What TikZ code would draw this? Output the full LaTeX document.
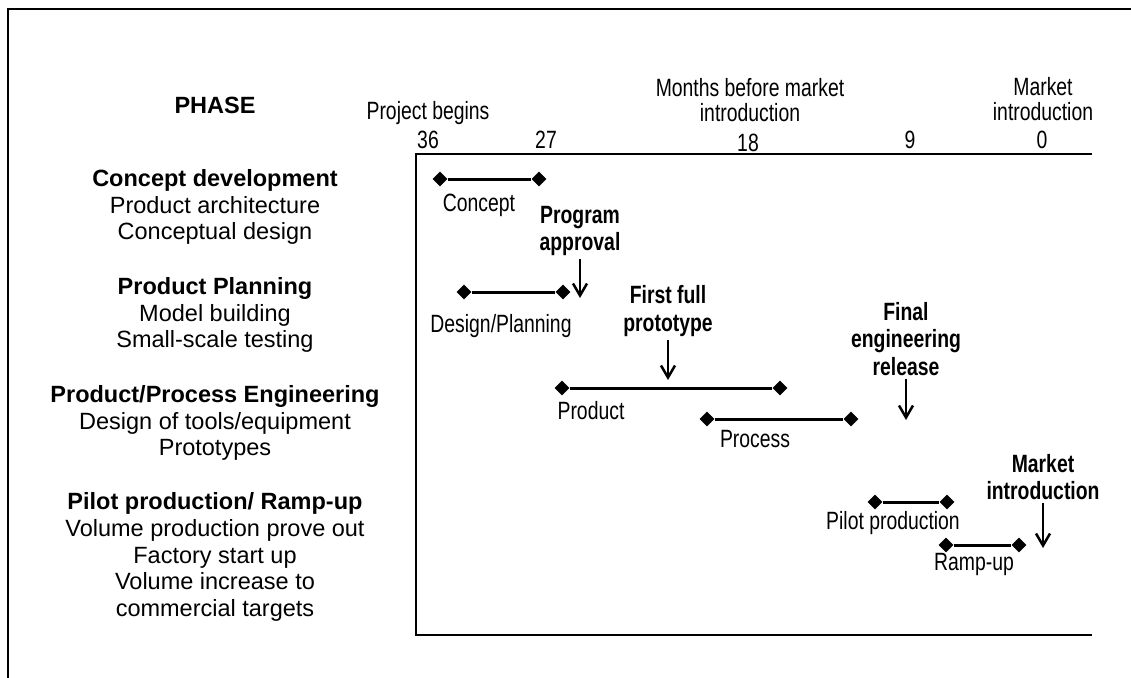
\documentclass[tikz,border=0pt]{standalone}
\usepackage{fontspec}
\setmainfont{Liberation Sans}
\newfontfamily\narrow[FakeStretch=0.775]{Liberation Sans}
\usetikzlibrary{arrows.meta,shapes.geometric}
\begin{document}
\begin{tikzpicture}[x=1pt,y=-1pt,
 every node/.style={inner sep=0pt, align=center},
 phasetxt/.style={font=\fontsize{23.5}{26.8}\selectfont},
 hdr/.style={font=\fontsize{25}{25}\selectfont\narrow},
 lbl/.style={font=\fontsize{25}{26}\selectfont\narrow},
 ms/.style={font=\fontsize{25}{27.5}\selectfont\narrow\bfseries},
 dia/.style={diamond, fill=black, draw=none, inner sep=0pt, minimum width=15pt, minimum height=15pt},
 bar/.style={line width=3pt},
 arr/.style={line width=2.5pt, shorten <=3pt, -{Straight Barb[length=12pt,width=14pt,line width=2.5pt]}},
 frameline/.style={line width=1.8pt}
]
\useasboundingbox (0,0) rectangle (1131,677);
% frames
\draw[frameline] (8,690) -- (8,9) -- (1140,9);
\draw[frameline] (1092,154) -- (416,154) -- (416,635) -- (1092,635);

% header
\node[phasetxt,font=\fontsize{23.5}{26.8}\selectfont\bfseries] (phase) at (215,105) {PHASE};
\node[hdr] (pb) at (428,113) {Project begins};
\node[hdr] (mbm) at (750,100) {Months before market\\introduction};
\node[hdr] (mkt) at (1043,99) {Market\\introduction};
\node[hdr] (n36) at (428,140) {36};
\node[hdr] (n27) at (546,140) {27};
\node[hdr] (n18) at (748,143) {18};
\node[hdr] (n9) at (910,140) {9};
\node[hdr] (n0) at (1042,140) {0};

% left column
\node[phasetxt] (g1) at (215,207) {{\bfseries Concept development}\\Product architecture\\Conceptual design};
\node[phasetxt] (g2) at (215,315) {{\bfseries Product Planning}\\Model building\\Small-scale testing};
\node[phasetxt] (g3) at (215,423) {{\bfseries Product/Process Engineering}\\Design of tools/equipment\\Prototypes};
\node[phasetxt] (g4) at (215,557) {{\bfseries Pilot production/ Ramp-up}\\Volume production prove out\\Factory start up\\Volume increase to\\commercial targets};

% bars
\node[dia] (c1) at (440,179) {};
\node[dia] (c2) at (539,179) {};
\draw[bar] (c1) -- (c2);
\node[lbl] (cl) at (479,205) {Concept};

\node[dia] (d1) at (464,292) {};
\node[dia] (d2) at (563,292) {};
\draw[bar] (d1) -- (d2);
\node[lbl] (dl) at (501,326) {Design/Planning};

\node[dia] (p1) at (562,388) {};
\node[dia] (p2) at (780,388) {};
\draw[bar] (p1) -- (p2);
\node[lbl] (pl) at (591,411) {Product};

\node[dia] (r1) at (707,419) {};
\node[dia] (r2) at (851,419) {};
\draw[bar] (r1) -- (r2);
\node[lbl] (rl) at (755,439) {Process};

\node[dia] (i1) at (875,502) {};
\node[dia] (i2) at (947,502) {};
\draw[bar] (i1) -- (i2);
\node[lbl] (il) at (893,523) {Pilot production};

\node[dia] (u1) at (946,545) {};
\node[dia] (u2) at (1019,545) {};
\draw[bar] (u1) -- (u2);
\node[lbl] (ul) at (974,564) {Ramp-up};

% milestones
\node[ms] (pa) at (580,231) {Program\\approval};
\coordinate (pae) at (580,298);
\draw[arr] (pa.south) -- (pae);

\node[ms] (ffp) at (668,311) {First full\\prototype};
\coordinate (ffpe) at (668,380);
\draw[arr] (ffp.south) -- (ffpe);

\node[ms] (fer) at (906,339) {Final\\engineering\\release};
\coordinate (fere) at (906,420);
\draw[arr] (fer.south) -- (fere);

\node[ms] (mi) at (1043,477) {Market\\introduction};
\coordinate (mie) at (1043,548);
\draw[arr] (mi.south) -- (mie);
\end{tikzpicture}
\end{document}
